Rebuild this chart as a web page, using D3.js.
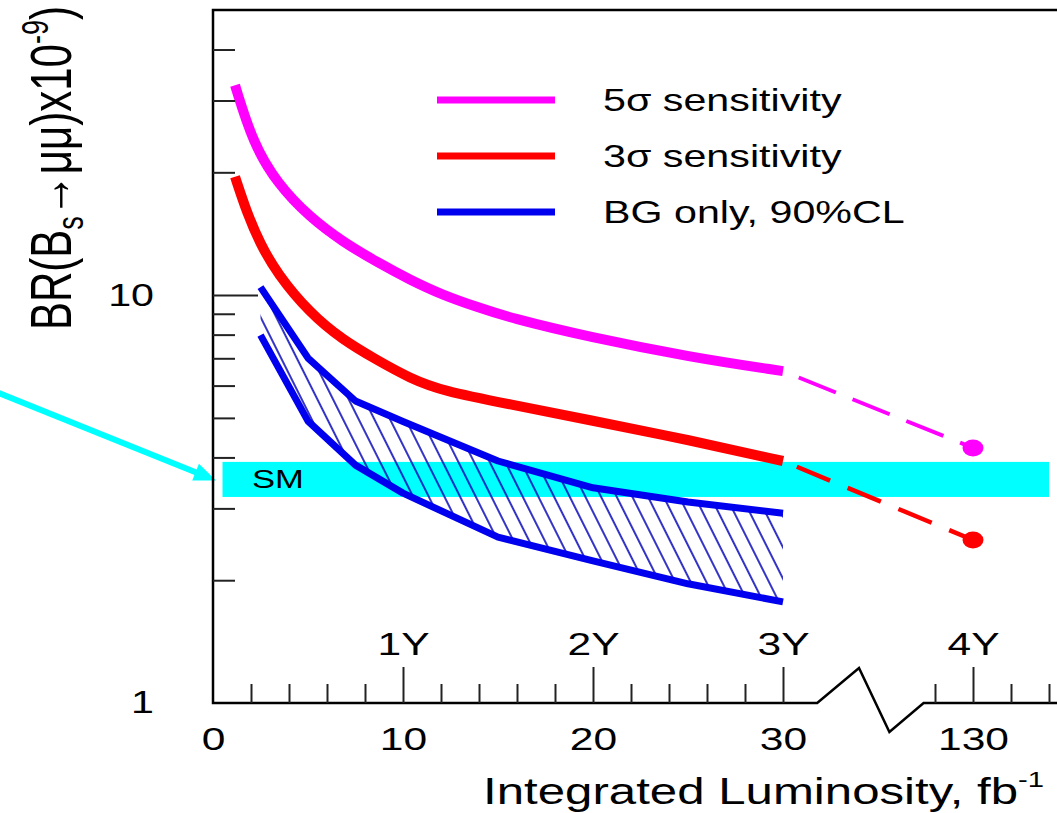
<!DOCTYPE html>
<html>
<head>
<meta charset="utf-8">
<script src="https://cdn.jsdelivr.net/npm/d3@7"></script>
<style>
  body { margin: 0; background: #fff; }
</style>
</head>
<body>
<script>
// values
var lumi5 = [1.16, 2.1, 3.37, 5.1, 6.84, 8.63, 10.37, 12.1, 13.9, 15.6, 19.8, 25.1, 30];
var br5 = [32.7, 23.6, 18.8, 15.5, 13.5, 12.05, 10.9, 10.0, 9.35, 8.8, 7.89, 7.05, 6.51];
var lumi3 = [1.16, 1.79, 2.47, 3.37, 5.1, 6.84, 8.63, 10.37, 12.1, 15.6, 19.8, 25.1, 30];
var br3 = [19.5, 15.9, 13.4, 11.3, 9.03, 7.76, 6.93, 6.25, 5.82, 5.4, 4.94, 4.41, 3.92];
var lumiBG = [2.5, 5, 7.5, 10, 15, 20, 25, 30];
var bgHigh = [10.46, 7.01, 5.5, 4.9, 3.92, 3.37, 3.11, 2.92];
var bgLow = [7.98, 4.91, 3.83, 3.27, 2.55, 2.23, 1.96, 1.77];
var lumiExt = [30, 130];
var ext5 = [6.51, 4.22];
var ext3 = [3.92, 2.51];
var smBand = [3.2, 3.9];
var smLumi = [0.5, 134];

var xMajorA = [10, 20, 30], xMinorA = [2, 4, 6, 8, 12, 14, 16, 18, 22, 24, 26, 28];
var xMajorB = [130], xMinorB = [128, 132, 134];
var xLabelsA = [0, 10, 20, 30], xLabelsB = [130];
var yearsA = ["1Y", "2Y", "3Y"], yearsB = ["4Y"];
var yMajor = [10], yMinor = [2, 3, 4, 5, 6, 7, 8, 9, 20, 30, 40], yLabels = [1, 10];

var legendLabels = ["5σ sensitivity", "3σ sensitivity", "BG only, 90%CL"];
var colMag = "#ff00ff", colRed = "#ff0000", colBlue = "#0000ee", colCyan = "#00ffff";
var legendColors = [colMag, colRed, colBlue];

var SX = 1.33; // the picture is stretched sideways
var W = 1057, H = 813;

var svg = d3.select("body").append("svg")
    .attr("width", W).attr("height", H)
    .style("font-family", "'Liberation Sans', Arial, sans-serif");

var xA = d3.scaleLinear().domain([0, 30]).range([213, 783]),
    xB = d3.scaleLinear().domain([130, 134]).range([973, 1049]),
    y = d3.scaleLog().domain([1, 50]).range([703, 10]);

function X(v){ return v <= 31.8 ? xA(v) : xB(v); }

var defs = svg.append("defs");
var pat = defs.append("pattern")
    .attr("id", "hatch")
    .attr("patternUnits", "userSpaceOnUse")
    .attr("width", 14).attr("height", 10)
    .attr("patternTransform", "rotate(-26.6)");
pat.append("line").attr("x1", 7).attr("x2", 7).attr("y1", -1).attr("y2", 11)
    .attr("stroke", "#0000b8").attr("stroke-width", 1.6);

/* SM band */
svg.append("rect")
    .attr("x", X(smLumi[0]))
    .attr("y", y(smBand[1]))
    .attr("width", X(smLumi[1]) - X(smLumi[0]))
    .attr("height", y(smBand[0]) - y(smBand[1]))
    .attr("fill", colCyan);

svg.append("text")
    .attr("transform", "translate(252," + (y(Math.sqrt(smBand[0]*smBand[1])) + 9) + ") scale(" + SX + ",1)")
    .attr("font-size", 26)
    .text("SM");

// arrow pointing at the band
var tipX = 216, tipY = y(Math.sqrt(smBand[0]*smBand[1])) + 1;
var ang = Math.atan2(tipY - 392, tipX + 4);
svg.append("line")
    .attr("x1", -4).attr("y1", 392)
    .attr("x2", tipX - 16*Math.cos(ang)).attr("y2", tipY - 16*Math.sin(ang))
    .attr("stroke", colCyan).attr("stroke-width", 6);
var hl = 22, hw = 9;
var bx = tipX - hl*Math.cos(ang), by = tipY - hl*Math.sin(ang);
svg.append("path")
    .attr("d", "M" + tipX + "," + tipY +
        "L" + (bx + hw*Math.sin(ang)) + "," + (by - hw*Math.cos(ang)) +
        "L" + (bx - hw*Math.sin(ang)) + "," + (by + hw*Math.cos(ang)) + "Z")
    .attr("fill", colCyan);

/* hatched BG band */
var bg = lumiBG.map(function(d, i){ return {x: d, hi: bgHigh[i], lo: bgLow[i]}; });

svg.append("path")
    .datum(bg)
    .attr("fill", "url(#hatch)")
    .attr("d", d3.area().x(function(d){ return X(d.x); })
        .y0(function(d){ return y(d.lo); })
        .y1(function(d){ return y(d.hi); }));

var line = d3.line().x(function(d){ return X(d[0]); }).y(function(d){ return y(d[1]); });

[bgHigh, bgLow].forEach(function(vals){
    svg.append("path")
        .datum(lumiBG.map(function(d, i){ return [d, vals[i]]; }))
        .attr("fill", "none")
        .attr("stroke", colBlue)
        .attr("stroke-width", 7)
        .attr("stroke-linejoin", "round")
        .attr("d", line);
});

var smooth = d3.line().curve(d3.curveBasis)
    .x(function(d){ return X(d[0]); }).y(function(d){ return y(d[1]); });

svg.append("path")
    .datum(lumi3.map(function(d, i){ return [d, br3[i]]; }))
    .attr("fill", "none").attr("stroke", colRed).attr("stroke-width", 10)
    .attr("d", smooth);

svg.append("path")
    .datum(lumi5.map(function(d, i){ return [d, br5[i]]; }))
    .attr("fill", "none").attr("stroke", colMag).attr("stroke-width", 10)
    .attr("d", smooth);

// extrapolation to 130 fb-1
svg.append("path")
    .datum(lumiExt.map(function(d, i){ return [d, ext5[i]]; }))
    .attr("fill", "none").attr("stroke", colMag).attr("stroke-width", 4)
    .attr("stroke-dasharray", "40,18").attr("stroke-dashoffset", 41)
    .attr("d", line);
svg.append("path")
    .datum(lumiExt.map(function(d, i){ return [d, ext3[i]]; }))
    .attr("fill", "none").attr("stroke", colRed).attr("stroke-width", 4.5)
    .attr("stroke-dasharray", "36,19").attr("stroke-dashoffset", 40)
    .attr("d", line);

svg.selectAll(".dot")
    .data([[lumiExt[1], ext5[1], colMag], [lumiExt[1], ext3[1], colRed]])
    .enter().append("ellipse")
    .attr("class", "dot")
    .attr("cx", function(d){ return X(d[0]); })
    .attr("cy", function(d){ return y(d[1]); })
    .attr("rx", 10.5).attr("ry", 8.5)
    .attr("fill", function(d){ return d[2]; });

/* frame with axis break */
var yb = y(1);
svg.append("path")
    .attr("d", "M" + W + "," + y(50) + "H" + xA(0) + "V" + yb +
        "H" + xA(31.8) + "L" + xA(34) + "," + (yb - 35) +
        "L" + xB(125.6) + "," + (yb + 29) + "L" + xB(127.4) + "," + yb + "H" + W)
    .attr("fill", "none").attr("stroke", "#000").attr("stroke-width", 2.5);

function ticks(axis, tr){
    var g = svg.append("g").attr("transform", tr).call(axis);
    g.select(".domain").remove();
    g.selectAll("line").attr("stroke", "#222").attr("stroke-width", 2);
    return g;
}

ticks(d3.axisBottom(xA).tickValues(xMajorA).tickSizeInner(-36).tickSizeOuter(0).tickFormat(""), "translate(0," + yb + ")");
ticks(d3.axisBottom(xA).tickValues(xMinorA).tickSizeInner(-19).tickSizeOuter(0).tickFormat(""), "translate(0," + yb + ")");
ticks(d3.axisBottom(xB).tickValues(xMajorB).tickSizeInner(-36).tickSizeOuter(0).tickFormat(""), "translate(0," + yb + ")");
ticks(d3.axisBottom(xB).tickValues(xMinorB).tickSizeInner(-19).tickSizeOuter(0).tickFormat(""), "translate(0," + yb + ")");
ticks(d3.axisLeft(y).tickValues(yMajor).tickSizeInner(-45).tickSizeOuter(0).tickFormat(""), "translate(" + xA(0) + ",0)");
ticks(d3.axisLeft(y).tickValues(yMinor).tickSizeInner(-22).tickSizeOuter(0).tickFormat(""), "translate(" + xA(0) + ",0)");

function labels(axis, tr, size){
    var g = svg.append("g").attr("transform", tr).call(axis);
    g.select(".domain").remove();
    g.selectAll("line").remove();
    g.attr("font-family", null).attr("font-size", size);
    g.selectAll("text")
        .attr("fill", "#000")
        .attr("x", function(){ return (+d3.select(this).attr("x") || 0) / SX; })
        .attr("transform", "scale(" + SX + ",1)");
    return g;
}

var fmt = d3.format("d");
labels(d3.axisBottom(xA).tickValues(xLabelsA).tickSize(0).tickPadding(24).tickFormat(fmt), "translate(0," + yb + ")", 32);
labels(d3.axisBottom(xB).tickValues(xLabelsB).tickSize(0).tickPadding(24).tickFormat(fmt), "translate(0," + yb + ")", 32);
labels(d3.axisTop(xA).tickValues(xMajorA).tickSize(0).tickPadding(48)
    .tickFormat(function(d, i){ return yearsA[i]; }), "translate(0," + yb + ")", 32);
labels(d3.axisTop(xB).tickValues(xMajorB).tickSize(0).tickPadding(48)
    .tickFormat(function(d, i){ return yearsB[i]; }), "translate(0," + yb + ")", 32);
labels(d3.axisLeft(y).tickValues(yLabels).tickSize(0).tickPadding(59)
    .tickFormat(fmt), "translate(" + xA(0) + ",0)", 31);

/* legend */
var lg = svg.selectAll(".leg").data(legendLabels).enter().append("g")
    .attr("class", "leg")
    .attr("transform", function(d, i){ return "translate(0," + (100 + i*56) + ")"; });
lg.append("line")
    .attr("x1", 437).attr("x2", 555)
    .attr("stroke", function(d, i){ return legendColors[i]; })
    .attr("stroke-width", 7);
lg.append("text")
    .attr("transform", "translate(603,11) scale(" + SX + ",1)")
    .attr("font-size", 31)
    .text(function(d){ return d; });

/* axis titles */
var yt = svg.append("text")
    .attr("transform", "translate(71,330) scale(1.38,1) rotate(-90)")
    .attr("font-size", 42);
yt.append("tspan").text("BR(B");
yt.append("tspan").attr("font-size", 27).attr("dy", 9).text("s");
yt.append("tspan").attr("dy", -9).text("→μμ)x10");
yt.append("tspan").attr("font-size", 27).attr("dy", -17).text("-9");
yt.append("tspan").attr("dy", 17).text(")");

var xt = svg.append("text")
    .attr("transform", "translate(483,804) scale(" + SX + ",1)")
    .attr("font-size", 37);
xt.append("tspan").text("Integrated Luminosity, fb");
xt.append("tspan").attr("font-size", 22).attr("dy", -17).text("-1");
</script>
</body>
</html>
